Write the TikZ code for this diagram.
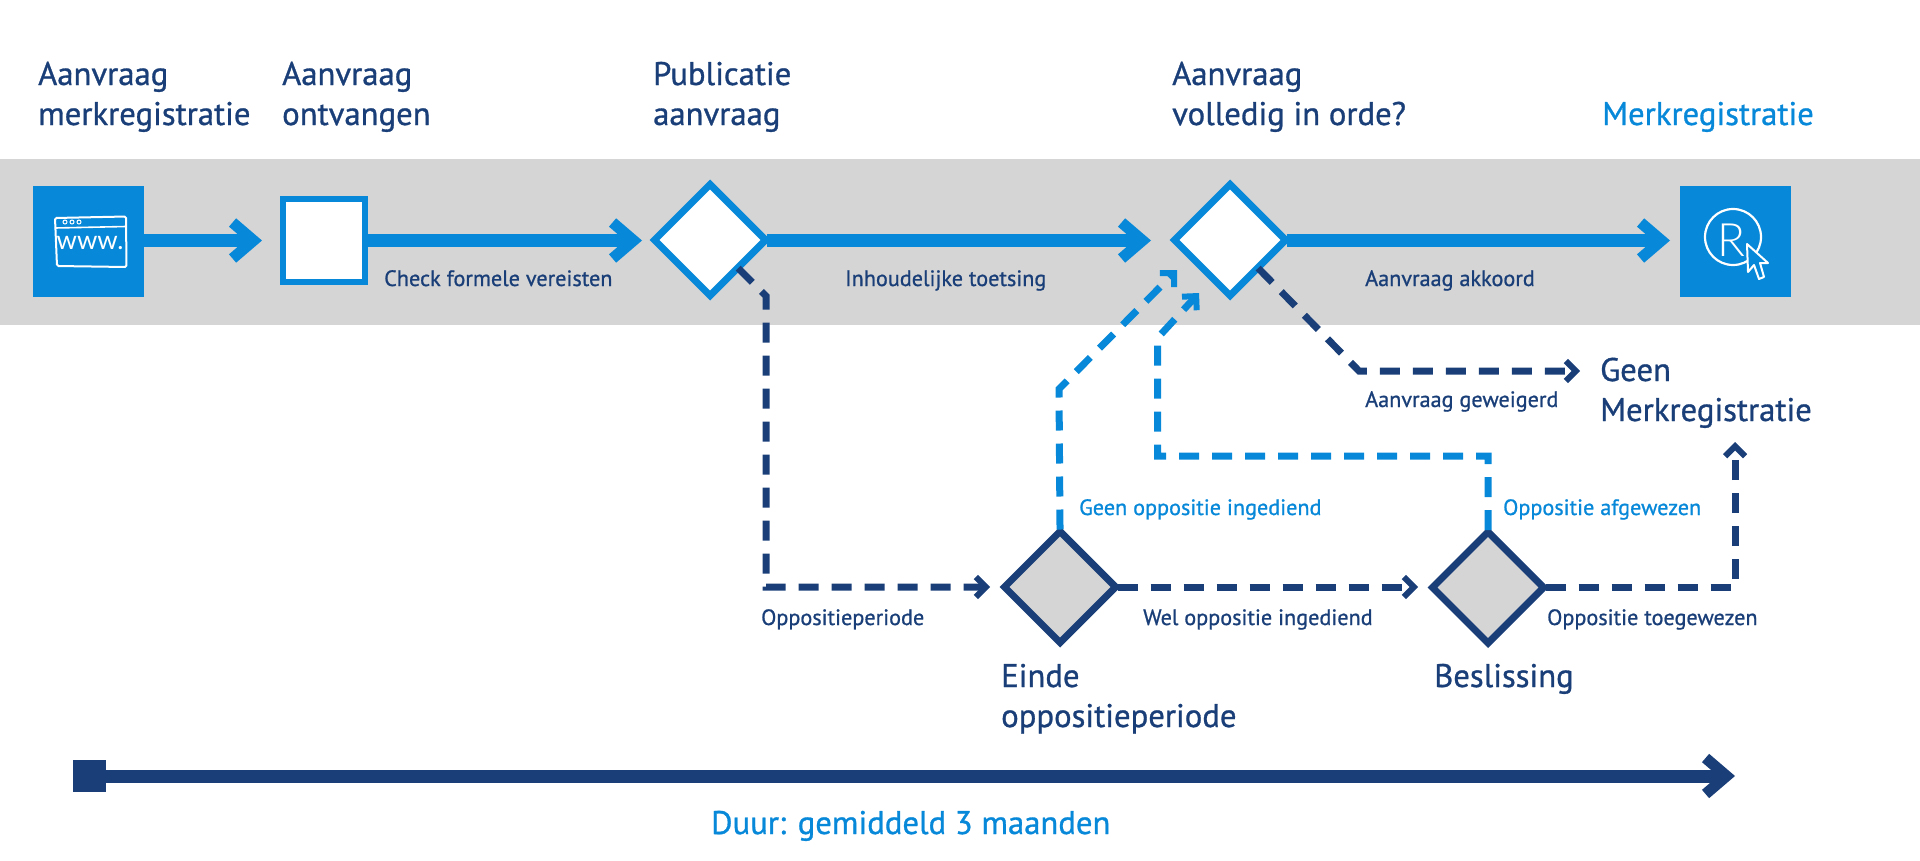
\documentclass[tikz,border=0pt]{standalone}
\usepackage{fontspec}
\setmainfont{PT Sans}
\newfontfamily\medface[FakeBold=0.9]{PT Sans}
\newfontfamily\thinface{Lato}
\newfontfamily\lightface{Lato Light}
\usetikzlibrary{arrows.meta,shapes.geometric}
\definecolor{mblue}{HTML}{0888D8}
\definecolor{mdark}{HTML}{1A3F78}
\definecolor{mgrey}{HTML}{D5D5D5}
\tikzset{
  x=1pt,y=-1pt,
  heading/.style={anchor=base west,inner sep=0pt,align=left,font=\medface\fontsize{32.7}{40}\selectfont,text=mdark},
  body/.style={anchor=base west,inner sep=0pt,font=\medface\fontsize{22.2}{24}\selectfont,text=mdark},
  bodyblue/.style={body,text=mblue},
  iconbox/.style={fill=mblue,minimum width=111,minimum height=111,inner sep=0pt,outer sep=0pt,anchor=center},
  whitebox/.style={draw=mblue,fill=white,line width=6,minimum width=82,minimum height=83,inner sep=0pt},
  gate/.style={diamond,aspect=1,draw=mblue,fill=white,line width=7,minimum width=114,minimum height=114,inner sep=0pt},
  greygate/.style={gate,draw=mdark,fill=mgrey},
  mainflow/.style={draw=mblue,line width=13,shorten <=-4pt,-{Straight Barb[length=21,width=36,line width=11]}},
  dashdark/.style={draw=mdark,line width=7,shorten <=-3pt,dash pattern=on 20 off 13,-{Straight Barb[length=10,width=20,line width=6]}},
  dashblue/.style={dashdark,draw=mblue},
}
\begin{document}
\begin{tikzpicture}
\useasboundingbox (0,0) rectangle (1920,860);
\fill[mgrey] (0,159) rectangle (1920,324.5);
% steps
\node[iconbox] (www) at (88.5,241.5) {};
\node[whitebox] (recv) at (324,240.5) {};
\node[gate] (pub) at (710,240) {};
\node[gate] (ok) at (1230,240) {};
\node[iconbox] (reg) at (1735,241.5) {};
\node[greygate] (einde) at (1060,587) {};
\node[greygate] (besl) at (1488,587.5) {};
% www icon
\draw[white,line width=2,rounded corners=1.5] (55,218) -- (126,216.5) -- (126.5,267) -- (57,266) -- cycle;
\draw[white,line width=1.6] (55,228) -- (126,226.5);
\foreach \dx in {65,72,79} \draw[white,line width=1] (\dx,222) circle (2);
\node[anchor=base,inner sep=0pt,text=white,font=\thinface\fontsize{26}{26}\selectfont] (wwwtxt) at (90,249) {www.};
% R icon
\draw[white,line width=2.2] (1733,237) circle (28);
\node[anchor=base,inner sep=0pt,text=white,font=\lightface\fontsize{46}{46}\selectfont] (rtxt) at (1731,256) {R};
\draw[white,line width=2,fill=mblue,line join=round] (1747,244) -- (1748,272) -- (1754,265) -- (1759,279) -- (1764,277) -- (1760,263) -- (1768,263) -- cycle;
% main flow
\coordinate (t1) at (262,240.5);
\coordinate (t2) at (642,240.5);
\coordinate (t3) at (1151,240.5);
\coordinate (t4) at (1670,240.5);
\draw[mainflow] (www.east |- t1) -- (t1);
\draw[mainflow] (recv.east |- t2) -- (t2);
\draw[mainflow] (pub.east |- t3) -- (t3);
\draw[mainflow] (ok.east |- t4) -- (t4);
% dashed flows
\coordinate (a1) at (766,296);
\coordinate (a2) at (766,587);
\coordinate (a3) at (990,587);
\draw[dashdark] (pub.south east) -- (a1) -- (a2) -- (a3);
\coordinate (b1) at (1418,587);
\draw[dashdark] (einde.east) -- (b1);
\coordinate (c1) at (1735,587.5);
\coordinate (c2) at (1735,442);
\draw[dashdark] (besl.east) -- (c1) -- (c2);
\coordinate (d1) at (1359,371);
\coordinate (d2) at (1580,371);
\draw[dashdark] (ok.south east) -- (d1) -- (d2);
\coordinate (e1) at (1059,389);
\coordinate (e2) at (1177,270);
\draw[dashblue] (einde.north) -- (e1) -- (e2);
\coordinate (f1) at (1488,456);
\coordinate (f2) at (1157.5,456);
\coordinate (f3) at (1157.5,338);
\coordinate (f4) at (1199,293);
\draw[dashblue] (besl.north) -- (f1) -- (f2) -- (f3) -- (f4);
% duration
\node[fill=mdark,minimum width=33,minimum height=32,inner sep=0pt,outer sep=0pt] (start) at (89.5,776) {};
\coordinate (dur) at (1735,776);
\draw[draw=mdark,line width=13,-{Straight Barb[length=21,width=36,line width=11]}] (start.east) -- (dur);
% headings
\node[heading] (h1) at (38,125) {Aanvraag\\merkregistratie};
\node[heading] (h2) at (282,125) {Aanvraag\\ontvangen};
\node[heading] (h3) at (653,125) {Publicatie\\aanvraag};
\node[heading] (h4) at (1172,125) {Aanvraag\\volledig in orde?};
\node[heading,text=mblue] (h5) at (1602,125) {Merkregistratie};
\node[heading] (h6) at (1600,421) {Geen\\Merkregistratie};
\node[heading] (h7) at (1001,727) {Einde\\oppositieperiode};
\node[heading] (h8) at (1434,687) {Beslissing};
\node[heading,text=mblue] (h9) at (711,834) {Duur: gemiddeld 3 maanden};
% labels
\node[body] (l1) at (384,286) {Check formele vereisten};
\node[body] (l2) at (845,286) {Inhoudelijke toetsing};
\node[body] (l3) at (1365,286) {Aanvraag akkoord};
\node[body] (l4) at (1365,407) {Aanvraag geweigerd};
\node[body] (l5) at (761,625) {Oppositieperiode};
\node[body] (l6) at (1143,625) {Wel oppositie ingediend};
\node[body] (l7) at (1547,625) {Oppositie toegewezen};
\node[bodyblue] (l8) at (1079,515) {Geen oppositie ingediend};
\node[bodyblue] (l9) at (1503,515) {Oppositie afgewezen};
\end{tikzpicture}
\end{document}
